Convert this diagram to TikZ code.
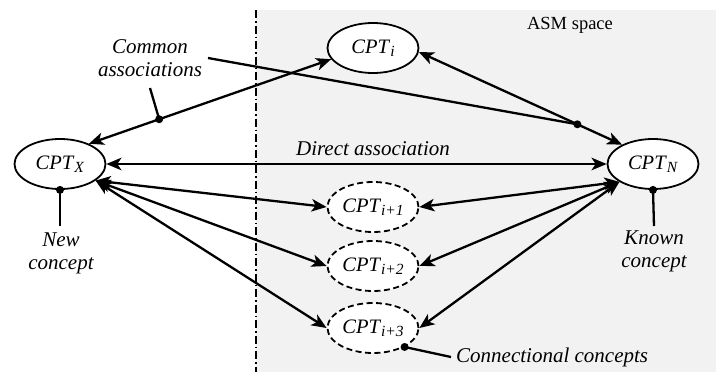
\documentclass[tikz,border=0pt]{standalone}
\usepackage{fontspec}
\setmainfont{Liberation Serif}
\usetikzlibrary{shapes.geometric,arrows.meta}
\definecolor{bggray}{HTML}{F2F2F2}
\newcommand{\cpt}[1]{\textit{CPT}\raisebox{-3pt}{\fontsize{15.5}{15.5}\selectfont\textit{#1}}}
\tikzset{
  concept/.style={ellipse,draw,fill=white,line width=1.8pt,minimum width=91pt,minimum height=50pt,inner sep=0pt,font=\fontsize{20.5}{22}\selectfont},
  conn/.style={concept,dash pattern=on 6pt off 3.5pt},
  assoc/.style={line width=2.3pt,{Stealth[length=15pt,width=12.5pt,inset=4pt]}-{Stealth[length=15pt,width=12.5pt,inset=4pt]}},
  pointer/.style={line width=2.3pt},
  lbl/.style={font=\fontsize{21}{23}\selectfont\itshape,align=center,inner sep=0pt},
  dot/.style={fill=black},
}
\begin{document}
\begin{tikzpicture}[x=1pt,y=-1pt]
\useasboundingbox (0,0) rectangle (716,372);
\fill[bggray] (256,10) rectangle (716,372);
\draw[line width=1.8pt,dash pattern=on 8pt off 3pt on 1.5pt off 3pt] (256,10) -- (256,372);

\node[concept] (X) at (60,164) {\cpt{X}};
\node[concept] (Ci) at (373,48) {\cpt{i}};
\node[concept] (N) at (653,164) {\cpt{N}};
\node[conn] (C1) at (373,207) {\cpt{i+1}};
\node[conn] (C2) at (373,266) {\cpt{i+2}};
\node[conn] (C3) at (373,328) {\cpt{i+3}};

\draw[assoc] (X.35) -- coordinate[pos=0.29] (d1) (Ci.195);
\draw[assoc] (Ci.-5) -- coordinate[pos=0.78] (d2) (N.148);
\draw[assoc] (X) -- (N);
\draw[assoc] (X.-25) -- (C1.west);
\draw[assoc] (X.-25) -- (C2.west);
\draw[assoc] (X.-25) -- (C3.west);
\draw[assoc] (N.208) -- (C1.east);
\draw[assoc] (N.208) -- (C2.east);
\draw[assoc] (N.208) -- (C3.east);

\node[lbl] (common) at (150,58) {Common\\associations};
\node[lbl,anchor=base] (direct) at (373,155) {Direct association};
\node[lbl] (new) at (61,253) {New\\concept};
\node[lbl] (known) at (654,251) {Known\\concept};
\node[lbl,anchor=base west] (connl) at (456,362) {Connectional concepts};
\node[font=\fontsize{18.5}{20}\selectfont,anchor=base,inner sep=0pt] (asm) at (570,30) {ASM space};

\coordinate (p1) at (150,88);
\coordinate (p2) at (208,58);
\coordinate (p3) at (60,226);
\coordinate (p4) at (654,226);
\coordinate (p5) at (451,357);
\coordinate (d3) at (C3.-31);

\draw[pointer] (d1) -- (p1);
\draw[pointer] (p2) -- (d2);
\draw[pointer] (X.south) -- (p3);
\draw[pointer] (N.south) -- (p4);
\draw[pointer] (d3) -- (p5);
\fill[dot] (d1) circle (4);
\fill[dot] (d2) circle (4);
\fill[dot] (X.south) circle (4);
\fill[dot] (N.south) circle (4);
\fill[dot] (d3) circle (4);
\end{tikzpicture}
\end{document}
